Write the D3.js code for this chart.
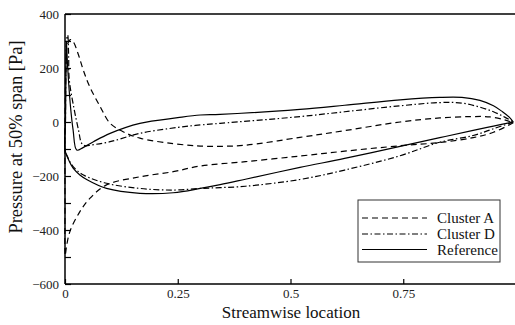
<!DOCTYPE html>
<html><head><meta charset="utf-8">
<script src="https://cdn.jsdelivr.net/npm/d3@7"></script>
<style>
body{margin:0;background:#fff}
svg{display:block;font-family:"Liberation Serif","Times New Roman",serif}
</style>
</head><body>
<svg id="c" width="515" height="325"></svg>
<script>
// ---- data ----
const seriesNames = ["Cluster A", "Cluster D", "Reference"];
const xTicks = [0, 0.25, 0.5, 0.75];
const xTickLabels = ["0", "0.25", "0.5", "0.75"];
const yTicks = [-600, -400, -200, 0, 200, 400];
const yMinorTicks = [-500, -300, -100, 100, 300];
const xLabel = "Streamwise location";
const yLabel = "Pressure at 50% span [Pa]";

const clusterA_x = [0.994,0.95,0.905,0.831,0.743,0.62,0.521,0.4,0.3,0.24,0.166,0.092,0.055,0.033,0.011,0.003,0.0005,0.0,0.0,0.002,0.006,0.012,0.018,0.03,0.041,0.055,0.078,0.1,0.129,0.166,0.24,0.3,0.35,0.4,0.521,0.62,0.743,0.831,0.9,0.942,0.975,0.994];
const clusterA_p = [-3,-38,-58,-76,-88,-108,-126,-147,-163,-184,-203,-233,-283,-332,-405,-465,-495,-300,0,200,290,305,298,248,190,130,57,-5,-36,-60,-80,-89,-90,-86,-57,-32,0,15,20,19,8,-3];

const clusterD_x = [0.994,0.95,0.905,0.831,0.743,0.62,0.521,0.4,0.344,0.3,0.24,0.166,0.092,0.041,0.018,0.006,0.0,0.001,0.002,0.004,0.006,0.008,0.0095,0.02,0.03,0.037,0.045,0.059,0.1,0.166,0.25,0.3,0.344,0.521,0.62,0.743,0.831,0.88,0.92,0.95,0.975,0.994];
const clusterD_p = [0,-25,-50,-75,-125,-178,-213,-238,-243,-246,-252,-246,-227,-196,-165,-130,-100,0,200,310,322,250,156,50,-30,-79,-88,-85,-73,-42,-20,-11,-5,20,38,60,72,70,55,38,18,0];

const reference_x = [0.994,0.95,0.905,0.831,0.743,0.62,0.521,0.4,0.344,0.3,0.24,0.166,0.092,0.05,0.033,0.018,0.008,0.0,0.001,0.002,0.003,0.006,0.012,0.018,0.026,0.04,0.063,0.1,0.166,0.25,0.3,0.344,0.521,0.62,0.743,0.831,0.88,0.92,0.95,0.97,0.985,0.994];
const reference_p = [0,-15,-31,-58,-90,-135,-168,-212,-232,-246,-262,-264,-246,-215,-196,-171,-140,-104,0,150,300,200,60,-30,-104,-95,-73,-42,-5,16,26,28,47,62,82,91,91,80,60,38,18,0];

const seriesX = [clusterA_x, clusterD_x, reference_x];
const seriesP = [clusterA_p, clusterD_p, reference_p];
const dashes = ["6,4", "6,2.5,1.5,2.5", null];

// ---- layout ----
const L = 65, T = 14, R = 516, B = 284;
const svg = d3.select("#c");
const x = d3.scaleLinear().domain([0, 1]).range([L, R]);
const y = d3.scaleLinear().domain([-600, 400]).range([B, T]);

// curves
const line = d3.line().x(d => x(d[0])).y(d => y(d[1])).curve(d3.curveCatmullRom.alpha(0.5));
seriesNames.forEach((n, i) => {
  const pts = seriesX[i].map((v, j) => [v, seriesP[i][j]]);
  svg.append("path").attr("d", line(pts)).attr("fill", "none")
    .attr("stroke", "#000").attr("stroke-width", 1.2)
    .attr("stroke-dasharray", dashes[i]);
});

// axes
const ax = svg.append("g").attr("transform", `translate(0,${B})`)
  .call(d3.axisBottom(x).tickValues(xTicks).tickFormat((d, i) => xTickLabels[i]).tickSize(-5).tickPadding(5));
const ay = svg.append("g").attr("transform", `translate(${L},0)`)
  .call(d3.axisLeft(y).tickValues(yTicks).tickFormat(d3.format("d")).tickSize(-6).tickPadding(6));
const aym = svg.append("g").attr("transform", `translate(${L},0)`)
  .call(d3.axisLeft(y).tickValues(yMinorTicks).tickFormat("").tickSize(-6));
[ax, ay, aym].forEach(g => {
  g.attr("font-family", null);
  g.select(".domain").attr("stroke", "#000").attr("stroke-width", 1.5);
  g.selectAll(".tick line").attr("stroke", "#000").attr("stroke-width", 1.2);
  g.selectAll("text").attr("fill", "#222").style("font-family", '"Liberation Serif",serif').style("font-size", "13px");
});
ax.select(".domain").attr("d", `M${L},0H${R}`);
ay.select(".domain").attr("d", `M0,${T}V${B}`);
aym.select(".domain").remove();
svg.append("line").attr("x1", L).attr("x2", R).attr("y1", T).attr("y2", T)
  .attr("stroke", "#000").attr("stroke-width", 1.5);

// axis labels
svg.append("text").attr("x", 291).attr("y", 318).attr("text-anchor", "middle")
  .style("font-size", "17px").attr("fill", "#111").text(xLabel);
svg.append("text").attr("transform", "translate(22,137) rotate(-90)").attr("text-anchor", "middle")
  .style("font-size", "18.5px").attr("fill", "#111").text(yLabel);

// legend
svg.append("rect").attr("x", 358).attr("y", 200).attr("width", 142).attr("height", 62)
  .attr("fill", "#fff").attr("stroke", "#333").attr("stroke-width", 1);
const legY = [218, 234, 249.5];
seriesNames.forEach((n, i) => {
  svg.append("line").attr("x1", 362).attr("x2", 427).attr("y1", legY[i]).attr("y2", legY[i])
    .attr("stroke", "#000").attr("stroke-width", 1.2).attr("stroke-dasharray", dashes[i]);
  svg.append("text").attr("x", 437).attr("y", legY[i] + 5).style("font-size", "15px")
    .attr("fill", "#111").text(n);
});
</script>
</body></html>
